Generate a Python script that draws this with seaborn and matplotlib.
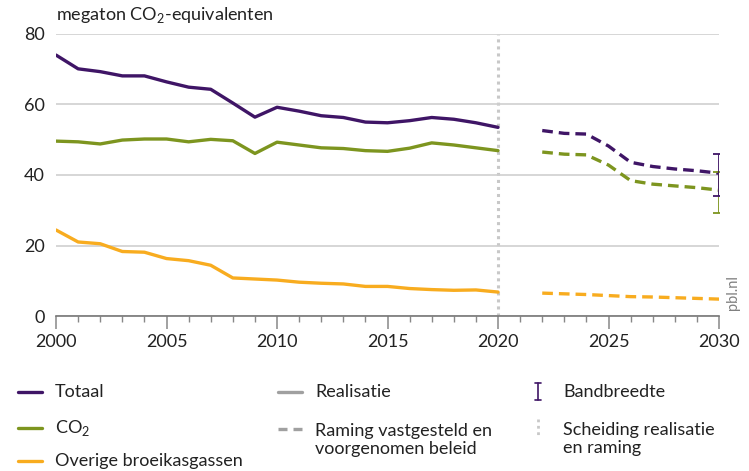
import matplotlib
matplotlib.use("Agg")
import matplotlib.pyplot as plt
from matplotlib.lines import Line2D
from matplotlib.ticker import MultipleLocator
import numpy as np
import pandas as pd
import seaborn as sns

# Emissions, megaton CO2-equivalents
years_hist = list(range(2000, 2021))
totaal_hist = [74.0, 70.1, 69.3, 68.1, 68.1, 66.4, 64.9, 64.3, 60.4, 56.4, 59.2,
               58.1, 56.8, 56.3, 55.0, 54.8, 55.4, 56.3, 55.8, 54.8, 53.5]
co2_hist = [49.6, 49.4, 48.8, 49.9, 50.2, 50.2, 49.4, 50.1, 49.7, 46.1, 49.3,
            48.5, 47.7, 47.5, 46.9, 46.7, 47.6, 49.1, 48.5, 47.7, 46.9]
overig_hist = [24.4, 21.0, 20.5, 18.3, 18.1, 16.3, 15.7, 14.4, 10.8, 10.5, 10.2,
               9.6, 9.3, 9.1, 8.4, 8.4, 7.8, 7.5, 7.3, 7.4, 6.8]

years_proj = list(range(2022, 2031))
totaal_proj = [52.6, 51.8, 51.6, 48.2, 43.6, 42.4, 41.7, 41.2, 40.5]
co2_proj = [46.5, 45.9, 45.7, 42.8, 38.4, 37.4, 36.9, 36.4, 35.7]
overig_proj = [6.5, 6.3, 6.1, 5.8, 5.5, 5.4, 5.2, 5.0, 4.8]

# Range for 2030: (low, high)
band_year = 2030
totaal_band = (34.0, 45.9)
co2_band = (29.2, 40.9)

series_names = ["Totaal", "CO2", "Overige broeikasgassen"]
colors = {"Totaal": "#3f1566", "CO2": "#7d951f", "Overige broeikasgassen": "#f8ac1f"}

hist = pd.DataFrame({"jaar": years_hist * 3,
                     "waarde": totaal_hist + co2_hist + overig_hist,
                     "reeks": np.repeat(series_names, len(years_hist))})
proj = pd.DataFrame({"jaar": years_proj * 3,
                     "waarde": totaal_proj + co2_proj + overig_proj,
                     "reeks": np.repeat(series_names, len(years_proj))})

sns.set_style("white")
plt.rcParams["font.family"] = ["Lato", "DejaVu Sans"]
plt.rcParams["mathtext.fontset"] = "custom"
plt.rcParams["mathtext.rm"] = "Lato"
text_col = "#222222"

fig = plt.figure(figsize=(7.49, 4.71), dpi=100)
ax = fig.add_axes([0.0748, 0.329, 0.8852, 0.599])

sns.lineplot(data=hist, x="jaar", y="waarde", hue="reeks", palette=colors,
             linewidth=2.4, ax=ax, legend=False)
for name in series_names:
    sub = proj[proj["reeks"] == name]
    sns.lineplot(data=sub, x="jaar", y="waarde", color=colors[name],
                 linewidth=2.4, ax=ax, legend=False, dashes=False)
    ax.lines[-1].set_dashes((3.2, 1.8))

# Bandwidth at 2030
for name, (lo, hi) in [("CO2", co2_band), ("Totaal", totaal_band)]:
    ax.errorbar([band_year], [(lo + hi) / 2], yerr=[[(hi - lo) / 2], [(hi - lo) / 2]],
                fmt="none", ecolor=colors[name], elinewidth=1.3, capsize=4,
                capthick=1.3, zorder=5)

# Separation between realisation and projection
ax.axvline(2020, color="#c8c8c8", linewidth=2.2, linestyle=(0, (1, 1.3)), zorder=0)

ax.set_xlim(2000, 2030)
ax.set_ylim(0, 80)
ax.set_yticks([0, 20, 40, 60, 80])
ax.set_xticks(range(2000, 2031, 5))
ax.xaxis.set_minor_locator(MultipleLocator(1))
ax.grid(axis="y", color="#cfcfcf", linewidth=1.2)
ax.grid(axis="x", visible=False)
for s in ["top", "right", "left"]:
    ax.spines[s].set_visible(False)
ax.spines["bottom"].set_color("#777777")
ax.spines["bottom"].set_linewidth(1.2)
ax.tick_params(axis="x", which="major", length=9, width=1.1, color="#888888",
               labelsize=13, labelcolor=text_col, pad=4, direction="out", bottom=True)
ax.tick_params(axis="x", which="minor", length=4, width=1.0, color="#888888",
               direction="out", bottom=True)
ax.tick_params(axis="y", length=0, labelsize=13, labelcolor=text_col, pad=8)
ax.set_xlabel("")
ax.set_ylabel("")


def fx(px):
    return px / 749


def fy(py):
    return 1 - py / 471


fig.text(fx(56), fy(15), "megaton CO$_\\mathregular{2}$-equivalenten", fontsize=13,
         color=text_col, ha="left", va="center")
fig.text(fx(733), fy(293), "pbl.nl", rotation=90, fontsize=10.5, color="#808080",
         ha="center", va="center")


# Legend
def handle(x0, y, color, dashes=None, lw=2.4):
    ln = Line2D([fx(x0), fx(x0 + 24)], [fy(y), fy(y)], color=color, linewidth=lw,
                transform=fig.transFigure)
    if dashes:
        ln.set_dashes(dashes)
    fig.add_artist(ln)


fs = 13
rows = [392, 428, 461]
handle(18, rows[0], colors["Totaal"])
fig.text(fx(55), fy(rows[0]), "Totaal", fontsize=fs, color=text_col, va="center")
handle(18, rows[1], colors["CO2"])
fig.text(fx(55), fy(rows[1]), "CO$_\\mathregular{2}$", fontsize=fs, color=text_col, va="center")
handle(18, rows[2], colors["Overige broeikasgassen"])
fig.text(fx(55), fy(rows[2]), "Overige broeikasgassen", fontsize=fs, color=text_col, va="center")

handle(278, rows[0], "#a0a0a0")
fig.text(fx(315), fy(rows[0]), "Realisatie", fontsize=fs, color=text_col, va="center")
handle(278, rows[1] + 1, "#a0a0a0", dashes=(2.7, 1.8))
fig.text(fx(315), fy(440), "Raming vastgesteld en\nvoorgenomen beleid",
         fontsize=fs, color=text_col, va="center", linespacing=1.2)

# bandwidth symbol
bx = fx(538)
fig.add_artist(Line2D([bx, bx], [fy(383), fy(400)], color=colors["Totaal"], linewidth=1.2,
                      transform=fig.transFigure))
for yy in (383, 400):
    fig.add_artist(Line2D([bx - fx(3), bx + fx(3)], [fy(yy), fy(yy)], color=colors["Totaal"],
                          linewidth=1.2, transform=fig.transFigure))
fig.text(fx(563), fy(rows[0]), "Bandbreedte", fontsize=fs, color=text_col, va="center")
fig.add_artist(Line2D([bx, bx], [fy(419), fy(436)], color="#c8c8c8", linewidth=2.0,
                      linestyle=(0, (1, 1.3)), transform=fig.transFigure))
fig.text(fx(563), fy(439), "Scheiding realisatie\nen raming",
         fontsize=fs, color=text_col, va="center", linespacing=1.2)

fig.savefig("out.png", dpi=100)
